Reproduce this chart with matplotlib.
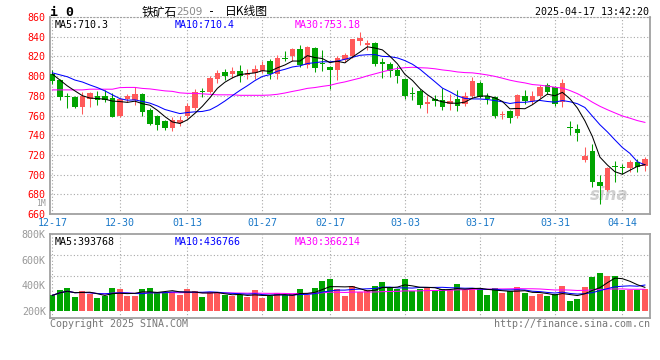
import numpy as np
import pandas as pd
import matplotlib
matplotlib.use("Agg")
import matplotlib.pyplot as plt

# iron ore 2509 daily K line, 2024-12-17 .. 2025-04-17 (80 sessions)
opens = [802, 796, 780, 779, 768.3, 776.7, 780, 779.3, 777.7, 759.3,
         777, 776, 782, 766, 760, 754, 747, 752, 759, 767.5,
         784, 784, 797, 804.5, 802.3, 805.5, 801, 803.3, 805.5, 815.3,
         802.5, 818.3, 820, 828, 811, 828.3, 813.5, 809.7, 806.7, 816.3,
         820.3, 835.5, 831.3, 833.3, 814.7, 812.3, 806, 797.3, 782, 784.5,
         771.5, 776.7, 775.5, 771.5, 777, 771.5, 779.5, 793.2, 780, 779,
         761, 765, 759, 780, 774.8, 779.7, 790.5, 788.5, 773.8, 747.7,
         746.7, 714.5, 724, 692.8, 684.2, 708.5, 707, 706.5, 712.7, 708.3]
highs = [806, 797, 783, 780, 784, 784, 785, 786, 783, 778,
         782, 788.7, 783, 768, 761, 755, 758, 759, 773, 787,
         788, 800, 806, 807.3, 809, 811, 807, 811, 815, 817.5,
         821, 825, 829, 832, 830.5, 829.5, 826, 810, 820, 823.5,
         838, 845, 837, 835, 818.5, 814, 810, 798, 788.5, 787,
         781, 780.5, 788, 781.5, 785.5, 784, 799.5, 795, 782.5, 780,
         764.3, 766, 781.8, 786.2, 785, 790.5, 792.5, 790, 797.5, 754.3,
         751, 728, 731, 700, 707.5, 714.3, 711, 714.5, 715.5, 717.5]
lows = [792, 776, 768, 768, 762, 769, 771, 774, 758, 758,
        774, 771, 760, 750, 745, 745, 744, 749, 757, 766,
        779, 782.5, 793, 795.7, 798.5, 794.5, 797, 797.5, 803, 797,
        797.5, 815.5, 815, 809, 808, 804, 805, 787.3, 796.5, 814,
        818, 832, 826.7, 810.5, 798.5, 799, 793.3, 777, 776, 768,
        763, 770, 766, 766, 765, 770, 778, 777.5, 772, 757.5,
        756, 752, 757.7, 772, 772, 777.5, 781.5, 769.5, 768.5, 740.5,
        734.5, 712.5, 687.5, 670, 683.5, 692, 700.8, 703, 702.7, 703.5]
closes = [795.3, 778.7, 779, 768.3, 779.3, 783.3, 776, 776, 758.7, 776.7,
          779.3, 782, 763.3, 751, 750.7, 747.3, 755, 755.5, 769.5, 783.5,
          783.5, 798, 803.5, 800.5, 805.5, 800, 803, 807.3, 811.7, 802,
          818, 817.5, 827.3, 811.5, 829.5, 808.3, 812.5, 806.7, 818.3, 821.5,
          837.3, 838.2, 833.3, 812.3, 812, 805, 800, 779.5, 781.5, 770.5,
          774, 775, 768.5, 775, 769.5, 780, 795, 778.5, 776.5, 759.3,
          762, 757.5, 780.5, 775, 779.7, 789, 784.3, 772, 792.5, 747.2,
          742, 719.3, 692.3, 688, 707, 708, 706.5, 712.7, 707.6, 716.1]
volumes_k = [322, 361, 379, 309, 353, 330, 301, 314, 379, 369,
             314, 314, 369, 379, 348, 348, 348, 322, 369, 353,
             309, 348, 340, 322, 314, 322, 309, 361, 301, 314,
             340, 322, 335, 369, 322, 379, 431, 447, 369, 314,
             392, 348, 361, 392, 423, 387, 369, 447, 353, 369,
             384, 353, 369, 361, 408, 361, 377, 377, 322, 377,
             338, 353, 384, 338, 314, 330, 314, 330, 392, 275,
             291, 384, 462, 496, 470, 470, 361, 361, 361, 369]

# MA values before enough history is on the chart
ma5_head = [802, 796, 790, 785]
ma10_head = [803.3, 801.3, 799.3, 796, 794, 791, 788.3, 785, 781]
ma30_head = [786, 786, 786, 786, 786, 786.7, 786.7, 786.7, 786.7, 788.3,
             788.5, 788.5, 787.5, 787, 786, 785, 784.5, 783, 782.5, 782.5,
             782, 781.5, 781, 781, 781, 780.5, 780.5, 780.5, 780.5]

tick_pos = [0, 9, 18, 28, 37, 47, 57, 67, 76]
tick_labels = ["12-17", "12-30", "01-13", "01-27", "02-17",
               "03-03", "03-17", "03-31", "04-14"]
price_ticks = list(range(660, 861, 20))
vol_ticks = [200000, 400000, 600000, 800000]
vol_tick_labels = ["200K", "400K", "600K", "800K"]

RED = "#ff5a5a"
GREEN = "#00a400"
GRID = "#a8a8a8"
MONO = "DejaVu Sans Mono"
FS = 7.2
LW = 0.75

plt.rcParams["font.family"] = [MONO, "Noto Sans CJK SC"]

W, H = 660, 360
fig = plt.figure(figsize=(6.6, 3.6), dpi=100)


def fx(x):
    return x / W


def fy(y):
    return 1 - y / H


ax = fig.add_axes([fx(50), fy(214), 600 / W, 197 / H])
axv = fig.add_axes([fx(50), fy(318), 600 / W, 84 / H])

x = np.arange(len(closes))
o = np.array(opens)
c = np.array(closes)
hi = np.array(highs)
lo = np.array(lows)
col = np.where(c >= o, RED, GREEN)

# candles
ax.vlines(x, lo, hi, colors=col, lw=LW, zorder=3)
body = np.maximum(np.abs(c - o), 0.9)
ax.bar(x, body, 0.72, bottom=np.minimum(o, c), color=col, lw=0, zorder=3)

s = pd.Series(closes)
ma5 = s.rolling(5).mean().to_numpy()
ma5[:4] = ma5_head
ma10 = s.rolling(10).mean().to_numpy()
ma10[:9] = ma10_head
ma30 = s.rolling(30).mean().to_numpy()
ma30[:29] = ma30_head
ax.plot(x, ma30, color="#ff00ff", lw=LW, zorder=4)
ax.plot(x, ma10, color="#0000ff", lw=LW, zorder=4)
ax.plot(x, ma5, color="black", lw=LW, zorder=5)

xl = (-0.32, 79.68)
ax.set_xlim(xl)
ax.set_ylim(660, 860)
ax.set_yticks(price_ticks)
ax.set_xticks(tick_pos)
ax.set_xticklabels(tick_labels)
ax.grid(True, ls=(0, (1, 2)), color=GRID, lw=0.8)
ax.tick_params(axis="y", length=0, pad=3, labelcolor="red", labelsize=FS)
ax.tick_params(axis="x", length=0, pad=3, labelcolor="#1a78c8", labelsize=FS)
for sp in ax.spines.values():
    sp.set_color("#a0a0a0")
    sp.set_linewidth(1.3)
ax.spines["top"].set_linestyle((0, (1, 2)))
ax.spines["top"].set_linewidth(0.8)

ax.text(0.008, 0.985, "MA5:710.3", transform=ax.transAxes, color="black",
        fontsize=FS, va="top")
ax.text(0.208, 0.985, "MA10:710.4", transform=ax.transAxes, color="#0000ff",
        fontsize=FS, va="top")
ax.text(0.408, 0.985, "MA30:753.18", transform=ax.transAxes, color="#ff00ff",
        fontsize=FS, va="top")
ax.text(0.965, 0.07, "sina", transform=ax.transAxes, color="#d0d0d0",
        fontsize=12, fontstyle="italic", fontweight="bold", ha="right",
        family="DejaVu Sans", zorder=1)

# volume
VOL_BASE = 200000
vol = np.array(volumes_k) * 1000
axv.bar(x, vol - VOL_BASE, 0.8, bottom=VOL_BASE, color=col, lw=0, zorder=3)
vs = pd.Series(vol)
axv.plot(x, vs.rolling(30, min_periods=1).mean(), color="#ff00ff", lw=LW, zorder=4)
axv.plot(x, vs.rolling(10, min_periods=1).mean(), color="#0000ff", lw=LW, zorder=4)
axv.plot(x, vs.rolling(5, min_periods=1).mean(), color="black", lw=LW, zorder=5)
axv.set_xlim(xl)
vlo, vhi = 145500, 800000
axv.set_ylim(vlo, vhi)
axv.set_yticks(vol_ticks)
axv.set_yticklabels(vol_tick_labels)
axv.set_xticks(tick_pos)
axv.set_xticklabels([])
axv.grid(True, axis="x", ls=(0, (1, 2)), color=GRID, lw=0.8)
for frac in (0.5, 0.75):
    axv.axhline(vlo + frac * (vhi - vlo), ls=(0, (1, 2)), color=GRID, lw=0.8, zorder=1)
axv.tick_params(axis="y", length=0, pad=3, labelcolor="#999999", labelsize=FS)
axv.tick_params(axis="x", length=0)
for sp in axv.spines.values():
    sp.set_color("#a0a0a0")
    sp.set_linewidth(1.3)

axv.text(0.008, 0.97, "MA5:393768", transform=axv.transAxes, color="black",
         fontsize=FS, va="top")
axv.text(0.208, 0.97, "MA10:436766", transform=axv.transAxes, color="#0000ff",
         fontsize=FS, va="top")
axv.text(0.408, 0.97, "MA30:366214", transform=axv.transAxes, color="#ff00ff",
         fontsize=FS, va="top")

# header / footer
fig.text(fx(50), fy(12), "i 0", fontsize=9.5, fontweight="bold", va="center")
cjk = ["Noto Sans CJK SC", "DejaVu Sans"]
fig.text(fx(142), fy(12), "铁矿石", family=cjk, fontsize=8.5, va="center")
fig.text(fx(176), fy(12), "2509", family="DejaVu Sans", color="#888888",
         fontsize=7.5, va="center")
fig.text(fx(208), fy(12), "-", fontsize=8.5, va="center")
fig.text(fx(225), fy(12), "日K线图", family=cjk, fontsize=8.5, va="center")
fig.text(fx(649), fy(12), "2025-04-17 13:42:20", fontsize=FS, ha="right",
         va="center")
fig.text(fx(46), fy(204), "1M", color="#999999", fontsize=5.8, ha="right",
         va="center")
fig.text(fx(50), fy(324), "Copyright 2025 SINA.COM", color="#777777",
         fontsize=FS, va="center")
fig.text(fx(650), fy(324), "http://finance.sina.com.cn", color="#777777",
         fontsize=FS, ha="right", va="center")

fig.savefig("out.png", dpi=100, facecolor="white")
